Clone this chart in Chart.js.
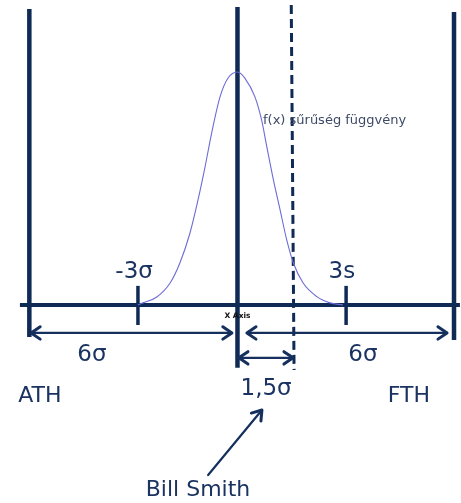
<!DOCTYPE html>
<html>
<head>
<meta charset="utf-8">
<script src="https://cdn.jsdelivr.net/npm/chart.js@4"></script>
<style>
  html, body { margin: 0; padding: 0; background: #fff; }
  #wrap { width: 461px; height: 503px; }
</style>
</head>
<body>
<div id="wrap"><canvas id="chart"></canvas></div>
<script>
// x in sigma units, y as density (peak = 1)
const curveX = [-2.85, -2.71, -2.31, -1.93, -1.65, -1.36, -1.13, -0.93, -0.74, -0.50, -0.27, 0,
                0.21, 0.50, 0.69, 0.84, 1.03, 1.22, 1.41, 1.60, 1.88, 2.27, 2.65, 3.02];
const curveY = [0, 0.009, 0.034, 0.094, 0.18, 0.309, 0.451, 0.592, 0.738, 0.893, 0.974, 1.0,
                0.974, 0.893, 0.794, 0.679, 0.536, 0.408, 0.279, 0.18, 0.094, 0.036, 0.009, 0];

// ATH, mean, FTH limit lines
const limitX = [-5.96, 0, 6.20];
const limitTop = [1.270, 1.279, 1.258];
const limitBottom = [-0.137, -0.270, -0.150];

// shifted mean (dashed)
const shiftX = [1.54, 1.62];
const shiftY = [1.288, -0.279];

const axisX = [-6.23, 6.37];
const tickX = [-2.85, 3.11];
const tickTop = 0.082, tickBottom = -0.086;

// arrows: [x1, y1, x2, y2], heads at both ends when double
const arrowX1 = [-5.91, 0.27, 0.04, -0.84];
const arrowY1 = [-0.120, -0.120, -0.227, -0.730];
const arrowX2 = [-0.16, 6.00, 1.59, 0.70];
const arrowY2 = [-0.120, -0.120, -0.227, -0.451];
const arrowBoth = [true, true, true, false];

const labelText = ['-3σ', '3s', '6σ', '6σ', 'ATH', 'FTH', '1,5σ', 'Bill Smith'];
const labelX = [-2.96, 2.99, -4.17, 3.59, -5.66, 4.91, 0.82, -1.13];
const labelY = [0.142, 0.142, -0.215, -0.215, -0.391, -0.391, -0.361, -0.794];

const navy = '#0f2b55';
const textNavy = '#1b3361';

function seg(x1, y1, x2, y2) { return [{x: x1, y: y1}, {x: x2, y: y2}]; }

const datasets = [];
datasets.push({
  data: curveX.map((x, i) => ({x: x, y: curveY[i]})),
  borderColor: '#6c6cd6', borderWidth: 1.1, tension: 0.35, cubicInterpolationMode: 'monotone'
});
limitX.forEach((x, i) => datasets.push({
  data: seg(x, limitBottom[i], x, limitTop[i]), borderColor: navy, borderWidth: 4.5
}));
datasets.push({
  data: seg(shiftX[0], shiftY[0], shiftX[1], shiftY[1]), borderColor: navy, borderWidth: 3,
  borderDash: [9, 5]
});
datasets.push({ data: seg(axisX[0], 0, axisX[1], 0), borderColor: navy, borderWidth: 4 });
tickX.forEach(x => datasets.push({
  data: seg(x, tickBottom, x, tickTop), borderColor: navy, borderWidth: 3.5
}));

const drawExtras = {
  id: 'drawExtras',
  afterDatasetsDraw(chart) {
    const ctx = chart.ctx, xs = chart.scales.x, ys = chart.scales.y;
    ctx.save();
    // arrows
    function head(tx, ty, fx, fy) {
      const a = Math.atan2(ty - fy, tx - fx), len = 11, w = 0.6;
      ctx.beginPath();
      ctx.moveTo(tx - len * Math.cos(a - w), ty - len * Math.sin(a - w));
      ctx.lineTo(tx, ty);
      ctx.lineTo(tx - len * Math.cos(a + w), ty - len * Math.sin(a + w));
      ctx.stroke();
    }
    ctx.strokeStyle = '#15305d';
    ctx.lineCap = 'round';
    ctx.lineJoin = 'round';
    arrowX1.forEach((x1, i) => {
      const p1x = xs.getPixelForValue(x1), p1y = ys.getPixelForValue(arrowY1[i]);
      const p2x = xs.getPixelForValue(arrowX2[i]), p2y = ys.getPixelForValue(arrowY2[i]);
      ctx.lineWidth = 2.2;
      ctx.beginPath(); ctx.moveTo(p1x, p1y); ctx.lineTo(p2x, p2y); ctx.stroke();
      ctx.lineWidth = 3;
      head(p2x, p2y, p1x, p1y);
      if (arrowBoth[i]) head(p1x, p1y, p2x, p2y);
    });
    // labels
    ctx.fillStyle = textNavy;
    ctx.textAlign = 'center';
    ctx.textBaseline = 'middle';
    labelText.forEach((t, i) => {
      ctx.font = (t === 'ATH' || t === 'FTH' || t === 'Bill Smith' ? '22px' : '23px') + ' "DejaVu Sans"';
      ctx.fillText(t, xs.getPixelForValue(labelX[i]), ys.getPixelForValue(labelY[i]));
    });
    ctx.font = '13px "DejaVu Sans"';
    ctx.fillStyle = '#3d4a66';
    ctx.textAlign = 'left';
    ctx.fillText('f(x) sűrűség függvény', xs.getPixelForValue(0.73), ys.getPixelForValue(0.79));
    ctx.font = 'bold 7.5px "DejaVu Sans"';
    ctx.fillStyle = '#111';
    ctx.textAlign = 'center';
    ctx.fillText('X Axis', xs.getPixelForValue(0), ys.getPixelForValue(-0.047));
    ctx.restore();
  }
};

new Chart(document.getElementById('chart'), {
  type: 'line',
  data: { datasets: datasets },
  options: {
    responsive: true,
    maintainAspectRatio: false,
    animation: false,
    layout: { padding: 0 },
    elements: { point: { radius: 0 } },
    plugins: { legend: { display: false }, tooltip: { enabled: false } },
    scales: {
      x: { type: 'linear', min: -6.8, max: 6.4, display: false },
      y: { type: 'linear', min: -0.85, max: 1.309, display: false }
    }
  },
  plugins: [drawExtras]
});
</script>
</body>
</html>
